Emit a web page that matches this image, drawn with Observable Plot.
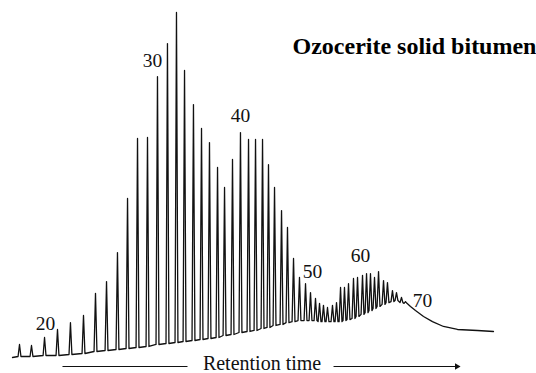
<!DOCTYPE html>
<html>
<head>
<meta charset="utf-8">
<script src="https://cdn.jsdelivr.net/npm/d3@7"></script>
<script src="https://cdn.jsdelivr.net/npm/@observablehq/plot@0.6"></script>
<style>
  html, body { margin: 0; padding: 0; background: #fff; }
  #chart svg text { font-family: "Liberation Serif", "Times New Roman", serif; }
</style>
</head>
<body>
<div id="chart"></div>
<script>
// Retention time (min) of each resolved n-alkane peak
const peakTime = [0.87, 2.36, 3.98, 5.59, 7.20, 8.82, 10.31, 11.68, 13.04, 14.29, 15.53, 16.77, 18.01, 19.25, 20.37, 21.37, 22.48, 23.48, 24.47, 25.47, 26.34, 27.33, 28.32, 29.32, 30.19, 31.06, 31.80, 32.55, 33.42, 34.16, 34.91, 35.65, 36.40, 37.02, 37.64, 38.14, 38.63, 39.13, 39.75, 40.25, 40.75, 41.24, 41.74, 42.36, 42.86, 43.48, 43.98, 44.47, 44.97, 45.47, 46.09, 46.58, 47.20, 47.70, 48.32, 48.82];
// Detector response at the top of each peak (relative %)
const peakHeight = [3.77, 3.48, 5.80, 8.12, 10.1, 12.2, 18.6, 22.0, 30.4, 46.1, 63.5, 63.8, 81.4, 91.0, 100, 83.2, 73.3, 66.4, 62.3, 55.1, 49.3, 57.4, 65.2, 63.2, 63.2, 63.2, 55.9, 49.3, 42.6, 37.7, 28.7, 23.2, 21.4, 18.8, 17.1, 15.7, 15.1, 14.5, 15.1, 15.9, 20.3, 20.3, 21.4, 22.9, 23.2, 23.8, 24.3, 24.3, 23.2, 24.9, 22.3, 21.7, 19.4, 18.8, 17.4, 16.2];
// Baseline (valley) response under each peak
const peakBase = [0.29, 0.29, 0.58, 0.58, 0.87, 1.16, 1.74, 2.03, 2.32, 2.61, 2.90, 3.19, 3.77, 4.06, 4.35, 4.64, 4.93, 5.22, 5.51, 5.80, 6.38, 6.67, 7.25, 7.54, 7.83, 8.41, 8.70, 9.28, 9.57, 10.1, 10.4, 10.7, 10.7, 10.7, 10.7, 10.4, 10.4, 10.4, 10.4, 10.4, 10.4, 10.7, 11.0, 11.3, 11.9, 12.5, 13.0, 13.6, 14.2, 14.8, 15.4, 15.9, 16.2, 16.5, 15.9, 15.7];
// Half width of a peak at its base (min)
const peakHalfWidth = 0.18;
// Unresolved tail after the last peak
const tailTime = [49.44, 50.06, 51.06, 52.17, 53.54, 55.28, 57.76, 59.75];
const tailSignal = [14.8, 13.6, 11.9, 10.4, 8.99, 8.12, 7.83, 7.54];
// Carbon-number annotations
const labelText = ["20", "30", "40", "50", "60", "70"];
const labelTime = [4.10, 17.39, 28.32, 37.27, 43.23, 50.93];
const labelSignal = [9.86, 86.1, 70.1, 24.9, 29.6, 16.5];
const title = "Ozocerite solid bitumen";
const axisLabel = "Retention time";

// Build the trace from the peak table
const trace = [{t: 0, s: 0}];
peakTime.forEach((t, i) => {
  trace.push({t: t - peakHalfWidth, s: peakBase[i]});
  trace.push({t: t, s: peakHeight[i]});
  trace.push({t: t + peakHalfWidth, s: peakBase[i]});
});
tailTime.forEach((t, i) => trace.push({t, s: tailSignal[i]}));

const labels = labelText.map((d, i) => ({text: d, t: labelTime[i], s: labelSignal[i]}));

const font = "Liberation Serif";
const ink = "#111";

const chart = Plot.plot({
  width: 536,
  height: 373,
  marginLeft: 12,
  marginRight: 41,
  marginTop: 12,
  marginBottom: 16,
  x: {domain: [0, 60], axis: null},
  y: {domain: [0, 100], axis: null},
  marks: [
    Plot.line(trace, {x: "t", y: "s", stroke: ink, strokeWidth: 1.3, strokeLinejoin: "round"}),
    Plot.text(labels, {x: "t", y: "s", text: "text", fontFamily: font, fontSize: 19.5, fill: ink}),
    Plot.text([title], {frameAnchor: "top-left", textAnchor: "start", lineAnchor: "middle", dx: 280, dy: 33.5,
      text: d => d, fontFamily: font, fontSize: 24, fontWeight: "bold", fill: "#000"}),
    Plot.text([axisLabel], {x: () => 31.0, y: () => -1.9, text: d => d, fontFamily: font, fontSize: 20, fill: ink}),
    Plot.link([{x1: 6.21, x2: 21.74}, {x1: 39.88, x2: 55.0}], {x1: "x1", x2: "x2", y1: () => -2.61, y2: () => -2.61, stroke: ink, strokeWidth: 1}),
    Plot.dot([{x: 55.2}], {x: "x", y: () => -2.61, symbol: "triangle", rotate: 90, r: 2.4, fill: ink, stroke: "none"})
  ]
});
chart.style.background = "#fff";
document.getElementById("chart").appendChild(chart);
</script>
</body>
</html>
